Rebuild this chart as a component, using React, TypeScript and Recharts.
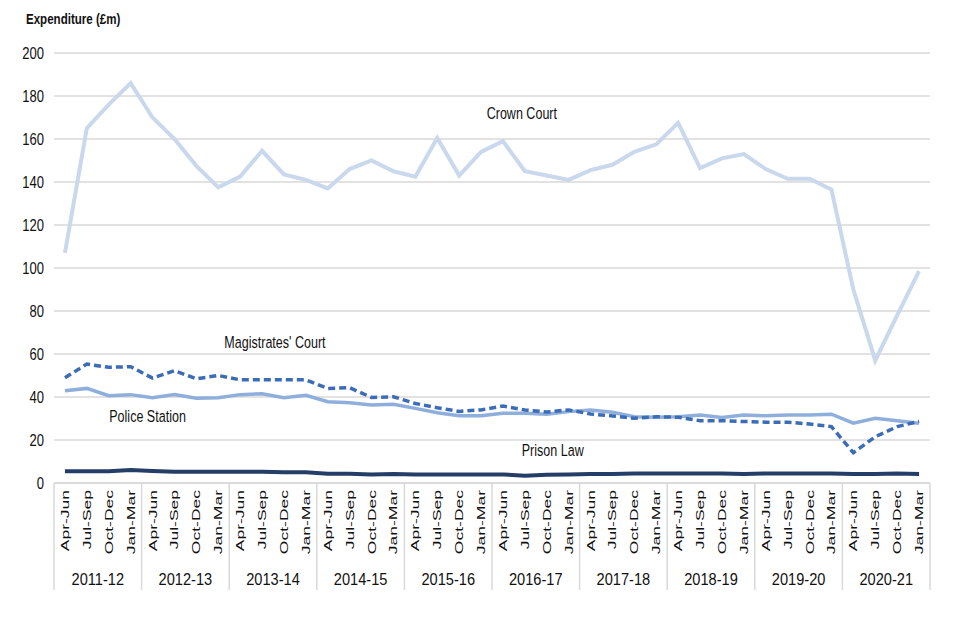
import React from 'react';
import { LineChart, Line, XAxis, YAxis, CartesianGrid, ReferenceDot } from 'recharts';

const years = ['2011-12', '2012-13', '2013-14', '2014-15', '2015-16', '2016-17', '2017-18', '2018-19', '2019-20', '2020-21'];
const quarters = ['Apr-Jun', 'Jul-Sep', 'Oct-Dec', 'Jan-Mar'];

const crownCourt = [107, 165, 176, 186, 170, 160, 147.5, 137.5, 142.5, 154.5, 143.5, 141, 137, 146, 150, 145, 142.5, 160.5, 143, 154, 159, 145, 143, 141, 145.5, 148, 154, 157.5, 167.5, 146.5, 151, 153, 146, 141.5, 141.5, 136.5, 90, 57, 78, 98.5];
const magistratesCourt = [49, 55.3, 53.8, 54.1, 48.8, 52.2, 48.5, 50, 48, 48, 48, 48, 44, 44.3, 39.8, 40.1, 37, 35, 33.3, 34, 35.8, 34, 33, 34, 32.1, 31.2, 30.1, 30.8, 30.6, 29, 29, 28.6, 28.3, 28.3, 27.4, 26.2, 14.1, 21.5, 26.2, 28.7];
const policeStation = [42.9, 44, 40.6, 41.1, 39.7, 41.1, 39.4, 39.7, 41.1, 41.5, 39.7, 40.8, 37.8, 37.3, 36.3, 36.6, 34.7, 32.7, 31.3, 31.3, 32.4, 32.4, 32, 33.2, 34, 32.9, 30.8, 30.6, 30.8, 31.6, 30.5, 31.6, 31.3, 31.6, 31.6, 32, 27.8, 30.1, 29, 27.8];
const prisonLaw = [5.5, 5.5, 5.5, 6, 5.6, 5.2, 5.2, 5.2, 5.2, 5.2, 5, 5, 4.3, 4.3, 4, 4.2, 4, 4, 4, 4, 4, 3.4, 3.8, 4, 4.2, 4.2, 4.4, 4.4, 4.4, 4.4, 4.4, 4.2, 4.4, 4.4, 4.4, 4.4, 4.2, 4.2, 4.4, 4.2];
const yTicks = [0, 20, 40, 60, 80, 100, 120, 140, 160, 180, 200];

const seriesLabels = [
  { text: 'Crown Court', index: 21, value: 172, dx: -3 },
  { text: "Magistrates' Court", index: 10, value: 65.6, dx: -9 },
  { text: 'Police Station', index: 4, value: 31.2, dx: -5 },
  { text: 'Prison Law', index: 22, value: 15.3, dx: 6 },
];

const data = years.flatMap((year, yi) =>
  quarters.map((quarter, qi) => {
    const i = yi * 4 + qi;
    return {
      id: `${year}|${quarter}`,
      crown: crownCourt[i],
      magistrates: magistratesCourt[i],
      police: policeStation[i],
      prison: prisonLaw[i],
    };
  })
);

const CHART_W = 952;
const CHART_H = 632;
const MARGIN = { top: 45, right: 30, left: 0, bottom: 0 };
const Y_W = 46;
const PLOT_W = CHART_W - MARGIN.right - MARGIN.left - Y_W;
const BAND = PLOT_W / data.length;
const FONT = '"Liberation Sans", Arial, sans-serif';
const TEXT = '#111';
const FRAME = '#d9d9d9';

const XTick = (props: any) => {
  const { x, y, payload } = props;
  const [year, quarter] = String(payload.value).split('|');
  const qi = quarters.indexOf(quarter);
  const isLast = year === years[years.length - 1] && qi === quarters.length - 1;
  return (
    <g>
      <text
        transform={`translate(${x},${y + 7}) rotate(-90) scale(1,0.65)`}
        textAnchor="end"
        dy="0.35em"
        fontSize={17.5}
        fontFamily={FONT}
        fill={TEXT}
      >
        {quarter}
      </text>
      {qi === 0 && (
        <line x1={x - BAND / 2} x2={x - BAND / 2} y1={y} y2={y + 107} stroke={FRAME} strokeWidth={1.5} />
      )}
      {isLast && (
        <line x1={x + BAND / 2} x2={x + BAND / 2} y1={y} y2={y + 107} stroke={FRAME} strokeWidth={1.5} />
      )}
      {qi === 0 && (
        <text
          transform={`translate(${x + 1.5 * BAND},${y + 96}) scale(0.86,1)`}
          textAnchor="middle"
          dy="0.35em"
          fontSize={17}
          fontFamily={FONT}
          fill={TEXT}
        >
          {year}
        </text>
      )}
    </g>
  );
};

const YTick = (props: any) => {
  const { x, y, payload } = props;
  return (
    <text
      transform={`translate(${x},${y}) scale(0.79,1)`}
      textAnchor="end"
      dy="0.36em"
      fontSize={16.5}
      fontFamily={FONT}
      fill={TEXT}
    >
      {payload.value}
    </text>
  );
};

const makeLabelShape = (text: string, dx: number) => (props: any) => {
  const { cx, cy } = props;
  return (
    <text
      transform={`translate(${cx + dx},${cy}) scale(0.76,1)`}
      textAnchor="middle"
      dy="0.35em"
      fontSize={16.5}
      fontFamily={FONT}
      fill={TEXT}
    >
      {text}
    </text>
  );
};

export default function App() {
  return (
    <div style={{ position: 'relative', width: CHART_W, height: CHART_H }}>
      <svg style={{ position: 'absolute', left: 0, top: 0 }} width={200} height={30}>
        <text
          transform="translate(18,11) scale(0.77,1)"
          dy="0.35em"
          fontSize={15}
          fontWeight="bold"
          fontFamily={FONT}
          fill={TEXT}
        >
          Expenditure (£m)
        </text>
      </svg>
      <LineChart width={CHART_W} height={CHART_H} data={data} margin={MARGIN}>
        <CartesianGrid vertical={false} stroke={FRAME} strokeWidth={1.5} />
        <XAxis
          dataKey="id"
          interval={0}
          height={157}
          padding={{ left: BAND / 2, right: BAND / 2 }}
          axisLine={{ stroke: FRAME, strokeWidth: 1.5 }}
          tickLine={false}
          tickSize={0}
          tickMargin={0}
          tick={<XTick />}
        />
        <YAxis
          width={Y_W}
          domain={[0, 200]}
          ticks={yTicks}
          interval={0}
          axisLine={false}
          tickLine={false}
          tickSize={0}
          tickMargin={10}
          tick={<YTick />}
        />
        <Line dataKey="crown" stroke="#c9d8ec" strokeWidth={4} dot={false} activeDot={false} isAnimationActive={false} />
        <Line dataKey="police" stroke="#8eaedb" strokeWidth={3.5} dot={false} activeDot={false} isAnimationActive={false} />
        <Line dataKey="magistrates" stroke="#3c6cb6" strokeWidth={3.5} strokeDasharray="7 4" dot={false} activeDot={false} isAnimationActive={false} />
        <Line dataKey="prison" stroke="#243e68" strokeWidth={4} dot={false} activeDot={false} isAnimationActive={false} />
        {seriesLabels.map((l) => (
          <ReferenceDot
            key={l.text}
            x={data[l.index].id}
            y={l.value}
            r={0}
            ifOverflow="visible"
            shape={makeLabelShape(l.text, l.dx)}
          />
        ))}
      </LineChart>
    </div>
  );
}
